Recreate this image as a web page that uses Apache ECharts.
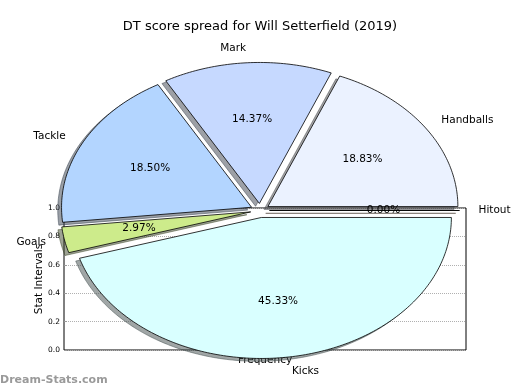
<!DOCTYPE html>
<html>
<head>
<meta charset="utf-8">
<script src="https://cdn.jsdelivr.net/npm/echarts@6/dist/echarts.min.js"></script>
<style>html,body{margin:0;padding:0;background:#fff;}#c{width:520px;height:390px;}</style>
</head>
<body>
<div id="c"></div>
<script>
const titleText = 'DT score spread for Will Setterfield (2019)';
const categories = ['Handballs', 'Mark', 'Tackle', 'Goals', 'Kicks', 'Hitout'];
const percents = [18.83, 14.37, 18.50, 2.97, 45.33, 0.00];
const yTicks = [0.0, 0.2, 0.4, 0.6, 0.8, 1.0];
const sliceColors = ['#EBF2FF', '#C6D9FF', '#B3D5FF', '#CDEB8B', '#D9FFFF', '#FFE0C0'];

const FONT = 'DejaVu Sans';
const CX = 260, CY = 210.5, RX = 190, RY = 141;
const EXPLODE = 0.05, LABEL_D = 1.1, PCT_D = 0.6;
const SHX = -0.02 * RX, SHY = 0.02 * RY;

function hexToRgb(h) {
  h = h.replace('#', '');
  return [parseInt(h.substr(0, 2), 16), parseInt(h.substr(2, 2), 16), parseInt(h.substr(4, 2), 16)];
}

const total = percents.reduce((a, b) => a + b, 0);

function renderItem(params, api) {
  const i = params.dataIndex;
  const v = api.value(0);
  let start = 0;
  for (let j = 0; j < i; j++) start += percents[j];
  const a0 = start / total * 2 * Math.PI;
  const a1 = (start + v) / total * 2 * Math.PI;
  const mid = (a0 + a1) / 2;
  const ox = CX + EXPLODE * RX * Math.cos(mid);
  const oy = CY - EXPLODE * RY * Math.sin(mid);
  const pts = [[ox, oy]];
  const steps = Math.max(2, Math.ceil((a1 - a0) / (Math.PI / 180)));
  for (let k = 0; k <= steps; k++) {
    const a = a0 + (a1 - a0) * k / steps;
    pts.push([ox + RX * Math.cos(a), oy - RY * Math.sin(a)]);
  }
  const shPts = pts.map(p => [p[0] + SHX, p[1] + SHY]);
  const rgb = hexToRgb(sliceColors[i]);
  const shCol = 'rgba(' + rgb.map(c => Math.round(c * 0.3)).join(',') + ',0.5)';
  const c = Math.cos(mid), s = Math.sin(mid);
  const lx = ox + LABEL_D * RX * c, ly = oy - LABEL_D * RY * s;
  const px = ox + PCT_D * RX * c, py = oy - PCT_D * RY * s;
  return {
    type: 'group',
    children: [
      { type: 'polygon', z2: 0, shape: { points: shPts },
        style: { fill: shCol, stroke: shCol, lineWidth: 1 } },
      { type: 'polygon', z2: 10, shape: { points: pts },
        style: { fill: sliceColors[i], stroke: '#000', lineWidth: 0.8, lineJoin: 'round' } },
      { type: 'text', z2: 20, x: px, y: py,
        style: { text: v.toFixed(2) + '%', fill: '#000', font: '10.5px "' + FONT + '"',
          align: 'center', verticalAlign: 'middle' } },
      { type: 'text', z2: 20, x: lx, y: ly,
        style: { text: categories[i], fill: '#000', font: '10.5px "' + FONT + '"',
          align: c > 0 ? 'left' : 'right', verticalAlign: 'middle' } }
    ]
  };
}

const chart = echarts.init(document.getElementById('c'), null, { renderer: 'canvas' });
chart.setOption({
  backgroundColor: '#fff',
  animation: false,
  textStyle: { fontFamily: FONT },
  title: {
    text: titleText, left: 'center', top: 15,
    textStyle: { fontFamily: FONT, fontSize: 13, fontWeight: 'normal', color: '#000' }
  },
  grid: { left: 64, right: 54, top: 208, bottom: 40, show: true, borderColor: '#000', borderWidth: 1, backgroundColor: 'transparent' },
  xAxis: {
    type: 'value', min: 0, max: 1,
    name: 'Frequency', nameLocation: 'middle', nameGap: 5, nameMoveOverlap: false,
    nameTextStyle: { fontFamily: FONT, fontSize: 10.5, color: '#000' },
    axisLine: { show: false }, axisTick: { show: false }, axisLabel: { show: false }, splitLine: { show: false }
  },
  yAxis: {
    type: 'value', min: yTicks[0], max: yTicks[yTicks.length - 1], interval: 0.2,
    name: 'Stat Intervals', nameLocation: 'middle', nameGap: 19, nameMoveOverlap: false,
    nameTextStyle: { fontFamily: FONT, fontSize: 10.5, color: '#000' },
    axisLine: { show: false },
    axisTick: { show: true, inside: true, length: 3, lineStyle: { color: '#999' } },
    axisLabel: { fontFamily: FONT, fontSize: 7.5, color: '#000', margin: 4, formatter: v => v.toFixed(1) },
    splitLine: { show: true, lineStyle: { color: '#b0b0b0', type: 'dotted', width: 1 } }
  },
  graphic: [
    { type: 'text', left: 0, top: 375, z: 100,
      style: { text: 'Dream-Stats.com', fill: '#9a9a9a', font: 'bold 11px "' + FONT + '"' } }
  ],
  series: [{
    type: 'custom', coordinateSystem: 'none', z: 5,
    renderItem: renderItem,
    data: percents.map((p, i) => ({ value: [p], name: categories[i] }))
  }]
});
</script>
</body>
</html>
